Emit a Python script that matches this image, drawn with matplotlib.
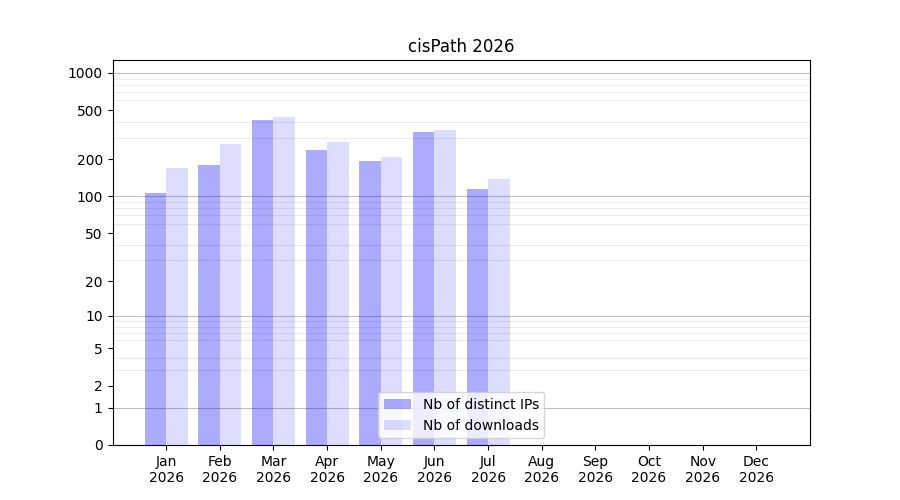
import numpy as np
import matplotlib
matplotlib.use("Agg")
import matplotlib.pyplot as plt

months = ['Jan', 'Feb', 'Mar', 'Apr', 'May', 'Jun', 'Jul', 'Aug', 'Sep', 'Oct', 'Nov', 'Dec']
year = 2026
distinct_ips = [107, 180, 417, 238, 194, 333, 115]
downloads = [171, 266, 441, 277, 209, 346, 139]
tick_values = [0, 1, 2, 5, 10, 20, 50, 100, 200, 500, 1000]


def fwd(x):
    return np.log10(np.maximum(x, 0) + 1)


def inv(y):
    return 10 ** y - 1


fig, ax = plt.subplots(figsize=(9, 5), dpi=100)
ax.set_axisbelow(True)

idx = np.arange(len(distinct_ips))
bar_width = 0.4
ax.bar(idx - bar_width / 2, distinct_ips, bar_width, color='blue', alpha=0.33,
       label='Nb of distinct IPs', zorder=3)
ax.bar(idx + bar_width / 2, downloads, bar_width, color='blue', alpha=0.135,
       label='Nb of downloads', zorder=3)

ax.set_yscale('function', functions=(fwd, inv))
ax.set_ylim(0, 1270)
ax.set_xlim(-1, len(months))

ax.set_yticks(tick_values)
ax.set_yticklabels([str(v) for v in tick_values])

# light grid at every 2..9 x 10^k, darker at each decade
minor = [m * 10 ** k for k in range(0, 3) for m in range(2, 10)]
ax.set_yticks(minor, minor=True)
ax.tick_params(axis='y', which='minor', length=0)
ax.grid(which='minor', axis='y', color='#ebebeb', linewidth=0.8, zorder=1)
for d in [1, 10, 100, 1000]:
    ax.axhline(d, color='#bfbfbf', linewidth=0.8, zorder=1)

ax.set_xticks(np.arange(len(months)))
ax.set_xticklabels([f'{m}\n{year}' for m in months])

ax.set_title(f'cisPath {year}')
ax.legend(loc='lower center')

plt.savefig('out.png')
